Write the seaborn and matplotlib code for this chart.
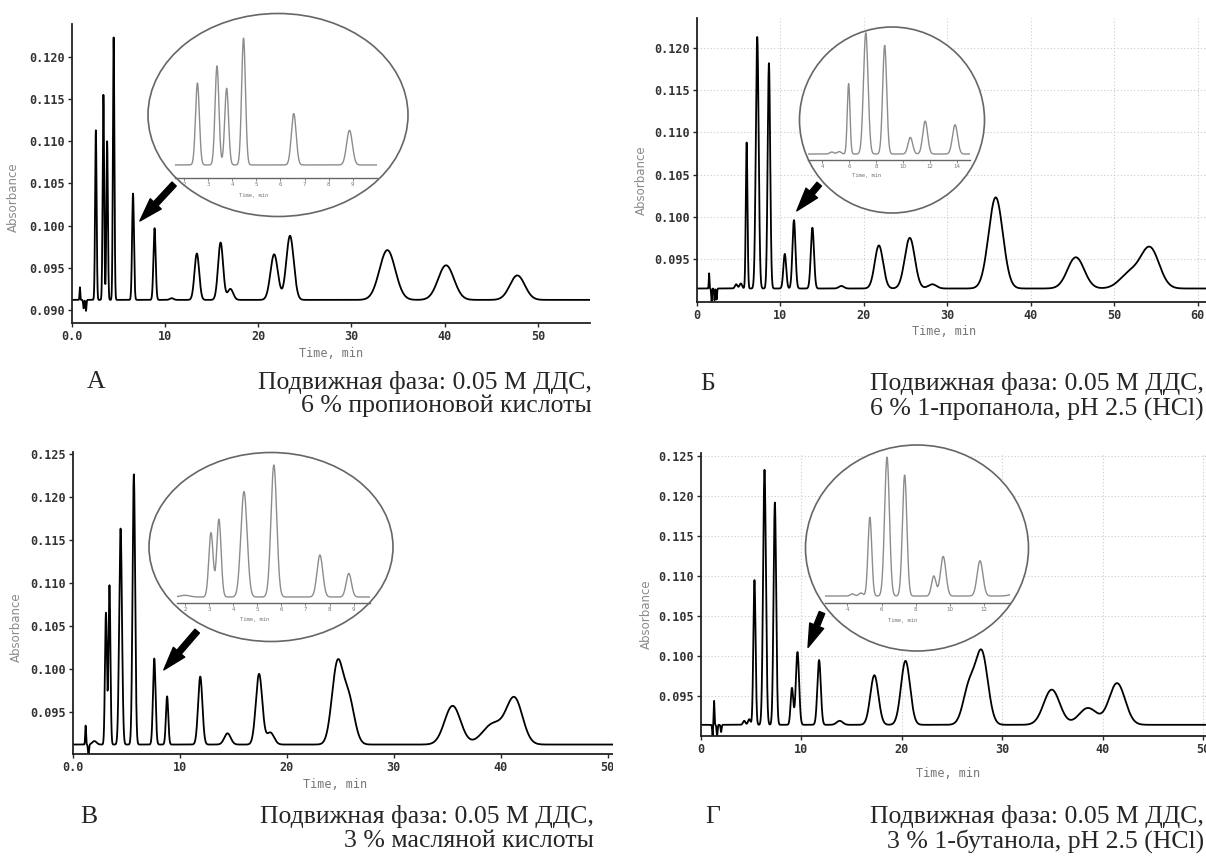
import numpy as np
import pandas as pd
import matplotlib
matplotlib.use("Agg")
import matplotlib.pyplot as plt
import seaborn as sns
from matplotlib.patches import Ellipse, Rectangle, FancyArrowPatch

# %% peak tables
# retention time (min), apex absorbance, peak width (sigma, min)
a_base = 0.0912
a_time = [0.85, 1.25, 1.5, 2.56, 3.37, 3.77, 4.47, 6.55, 8.86, 10.7, 13.4, 15.95, 17.0, 21.7, 23.4, 33.85, 40.15, 47.8]
a_apex = [0.0927, 0.0902, 0.0899, 0.1113, 0.1155, 0.1100, 0.1223, 0.1038, 0.0997, 0.0914, 0.0967, 0.0980, 0.0925, 0.0966, 0.0988, 0.0971, 0.0953, 0.0941]
a_sigma = [0.04, 0.05, 0.05, 0.08, 0.08, 0.08, 0.08, 0.1, 0.12, 0.2, 0.25, 0.27, 0.3, 0.4, 0.4, 0.85, 0.85, 0.8]

b_base = 0.0915
b_time = [1.45, 1.75, 2.1, 2.35, 4.7, 5.25, 5.95, 7.22, 8.62, 10.52, 11.62, 13.83, 17.3, 21.8, 25.5, 28.2, 35.8, 45.4, 51.9, 54.3]
b_apex = [0.0933, 0.0900, 0.0901, 0.0902, 0.0920, 0.0921, 0.1088, 0.1213, 0.1182, 0.0956, 0.0996, 0.0987, 0.0918, 0.0966, 0.0975, 0.0920, 0.1023, 0.0952, 0.0933, 0.0962]
b_sigma = [0.04, 0.05, 0.05, 0.05, 0.15, 0.15, 0.1, 0.17, 0.15, 0.17, 0.18, 0.19, 0.3, 0.5, 0.6, 0.5, 0.85, 1.0, 1.2, 1.1]

c_base = 0.0912
c_time = [1.18, 1.45, 2.0, 3.08, 3.41, 4.45, 5.69, 7.6, 8.8, 11.9, 14.45, 17.4, 18.45, 24.7, 25.75, 35.5, 39.3, 41.3]
c_apex = [0.0934, 0.0900, 0.0916, 0.1065, 0.1097, 0.1163, 0.1226, 0.1012, 0.0968, 0.0991, 0.0925, 0.0994, 0.0926, 0.1001, 0.0966, 0.0957, 0.0936, 0.0964]
c_sigma = [0.04, 0.05, 0.2, 0.09, 0.09, 0.13, 0.12, 0.12, 0.11, 0.2, 0.3, 0.3, 0.35, 0.5, 0.55, 0.75, 1.0, 0.75]

d_base = 0.0914
d_time = [1.15, 1.3, 1.6, 2.0, 4.3, 4.8, 5.32, 6.32, 7.35, 9.05, 9.6, 11.75, 13.8, 17.25, 20.35, 26.7, 27.95, 34.9, 38.5, 41.4]
d_apex = [0.0900, 0.0944, 0.0900, 0.0905, 0.0919, 0.0921, 0.1095, 0.1233, 0.1192, 0.0960, 0.1005, 0.0995, 0.0919, 0.0976, 0.0994, 0.0962, 0.1002, 0.0958, 0.0935, 0.0966]
d_sigma = [0.04, 0.04, 0.05, 0.05, 0.12, 0.12, 0.11, 0.14, 0.13, 0.13, 0.16, 0.17, 0.3, 0.4, 0.45, 0.6, 0.6, 0.8, 0.9, 0.8]

panel_letters = ['А', 'Б', 'В', 'Г']
caption_line1 = 'Подвижная фаза: 0.05 М ДДС,'
caption_line2 = ['6 % пропионовой кислоты', '6 % 1-пропанола, pH 2.5 (HCl)',
                 '3 % масляной кислоты', '3 % 1-бутанола, pH 2.5 (HCl)']


def chromatogram(t_end, base, times, apex, sigma):
    t = np.arange(0, t_end, 0.005)
    y = np.full_like(t, base)
    for t0, h, s in zip(times, apex, sigma):
        y += (h - base) * np.exp(-0.5 * ((t - t0) / s) ** 2)
    return pd.DataFrame({'time': t, 'abs': y})


# %% figure
sns.set_style('ticks')
plt.rcParams['font.family'] = ['DejaVu Sans']
W, H = 1206, 858
fig = plt.figure(figsize=(W / 100, H / 100), dpi=100)
mono = 'DejaVu Sans Mono'


def box(l, t, r, b):
    return [l / W, 1 - b / H, (r - l) / W, (b - t) / H]


def fxy(x, y):
    return (x / W, 1 - y / H)


def main_panel(rect, df, xlim, ylim, yticks, xticks, xlabels, grid, ylab_xy, xlab_xy, z=0):
    ax = fig.add_axes(box(*rect), zorder=z)
    if grid:
        ax.grid(True, ls=(0, (1, 2)), color='#cccccc', lw=0.8)
        ax.set_axisbelow(True)
    sns.lineplot(data=df, x='time', y='abs', ax=ax, color='black', lw=1.3, estimator=None)
    ax.set_xlim(*xlim)
    ax.set_ylim(*ylim)
    ax.set_yticks(yticks)
    ax.set_yticklabels([f'{v:.3f}' for v in yticks])
    ax.set_xticks(xticks)
    ax.set_xticklabels(xlabels)
    for s in ['top', 'right']:
        ax.spines[s].set_visible(False)
    for s in ['left', 'bottom']:
        ax.spines[s].set_linewidth(1.3)
        ax.spines[s].set_color('#222222')
    ax.tick_params(length=3, width=1, pad=2, labelsize=8.5, labelcolor='#333333')
    for lab in ax.get_xticklabels() + ax.get_yticklabels():
        lab.set_family(mono)
        lab.set_fontweight('bold')
    ax.set_ylabel('Absorbance', fontsize=8.5, color='#8a8a8a')
    ax.yaxis.set_label_coords(*ylab_xy)
    ax.set_xlabel('Time, min', fontsize=8.5, color='#777777', family=mono)
    ax.xaxis.set_label_coords(*xlab_xy)
    return ax


def inset(rect, df, xlim, ylim, xticks, lab_x, ell, arrow):
    e = Ellipse(fxy(ell[0], ell[1]), ell[2] / W, ell[3] / H, transform=fig.transFigure,
                facecolor='white', edgecolor='#666666', lw=1.2, zorder=4)
    fig.add_artist(e)
    ax = fig.add_axes(box(*rect), zorder=5)
    ax.patch.set_alpha(0)
    sns.lineplot(data=df, x='time', y='abs', ax=ax, color='#8c8c8c', lw=1.0, estimator=None)
    ax.set_xlim(*xlim)
    ax.set_ylim(*ylim)
    ax.set_yticks([])
    ax.set_xticks(xticks)
    for s in ['top', 'right', 'left']:
        ax.spines[s].set_visible(False)
    ax.spines['bottom'].set_color('#666666')
    ax.spines['bottom'].set_linewidth(1.0)
    ax.tick_params(axis='x', length=2, width=0.6, pad=1, labelsize=4, colors='#777777')
    ax.set_xlabel('Time, min', fontsize=4, color='#777777', family=mono)
    ax.xaxis.set_label_coords(lab_x, -0.1)
    ax.set_ylabel('')
    arr = FancyArrowPatch(fxy(*arrow[0]), fxy(*arrow[1]), transform=fig.transFigure,
                          arrowstyle='simple,head_length=1.4,head_width=0.9,tail_width=0.35',
                          mutation_scale=12, color='black', zorder=6)
    fig.add_artist(arr)
    return ax


df_a = chromatogram(56, a_base, a_time, a_apex, a_sigma)
df_b = chromatogram(62, b_base, b_time, b_apex, b_sigma)
df_c = chromatogram(51, c_base, c_time, c_apex, c_sigma)
df_d = chromatogram(51, d_base, d_time, d_apex, d_sigma)

# А
main_panel((72, 24, 590, 323), df_a, (0, 55.6), (0.08846, 0.1239),
           np.arange(0.090, 0.1201, 0.005), [0, 10, 20, 30, 40, 50],
           ['0.0', '10', '20', '30', '40', '50'], False, (-0.10, 0.42), (0.5, -0.08))
inset((175, 30, 377, 178), df_a, (1.63, 10.0), (0.0880, 0.1243), range(2, 10), 0.39,
      (278, 115, 260, 203), ((176, 182), (138, 223)))

# Б
main_panel((697, 18, 1206, 302), df_b, (0, 61.0), (0.0899, 0.12355),
           np.arange(0.095, 0.1201, 0.005), [0, 10, 20, 30, 40, 50, 60],
           ['0', '10', '20', '30', '40', '50', '60'], True, (-0.096, 0.43), (0.485, -0.08))
inset((808, 30, 970, 160), df_b, (2.94, 14.94), (0.09003, 0.1220), range(4, 15, 2), 0.36,
      (892, 120, 185, 186), ((821, 182), (795, 213)))

# В
main_panel((73, 452, 613, 754), df_c, (0, 50.5), (0.0901, 0.1252),
           np.arange(0.095, 0.1251, 0.005), [0, 10, 20, 30, 40, 50],
           ['0.0', '10', '20', '30', '40', '50'], False, (-0.093, 0.42), (0.485, -0.08))

# white patch of the Г image covers the end of the В axis
fig.add_artist(Rectangle((613 / W, 0), 1 - 613 / W, 1 - 430 / H, transform=fig.transFigure,
                         facecolor='white', edgecolor='none', zorder=1))

inset((177, 460, 370, 603), df_c, (1.67, 9.68), (0.08977, 0.1238), range(2, 10), 0.40,
      (271, 547, 244, 189), ((199, 629), (162, 672)))

# Г
main_panel((701, 453, 1206, 736), df_d, (0, 50.25), (0.0900, 0.1254),
           np.arange(0.095, 0.1251, 0.005), [0, 10, 20, 30, 40, 50],
           ['0', '10', '20', '30', '40', '50'], True, (-0.095, 0.43), (0.49, -0.11), z=2)
inset((825, 452, 1010, 603), df_d, (2.7, 13.5), (0.0898, 0.1245), range(4, 13, 2), 0.42,
      (917, 548, 223, 206), ((823, 610), (807, 650)))

# captions
serif = 'Liberation Serif'
letter_x = [96, 708, 89, 713]
right_x = [592, 1204, 594, 1204]
line_y = [(382, 406), (384, 409), (817, 841), (817, 841)]
for i in range(4):
    fig.text(*fxy(letter_x[i], line_y[i][0]), panel_letters[i], family=serif, fontsize=18.5,
             ha='center', va='center', zorder=7)
    fig.text(*fxy(right_x[i], line_y[i][0]), caption_line1, family=serif, fontsize=18.5,
             ha='right', va='center', zorder=7)
    fig.text(*fxy(right_x[i], line_y[i][1]), caption_line2[i], family=serif, fontsize=18.5,
             ha='right', va='center', zorder=7)

plt.savefig('out.png', dpi=100)
